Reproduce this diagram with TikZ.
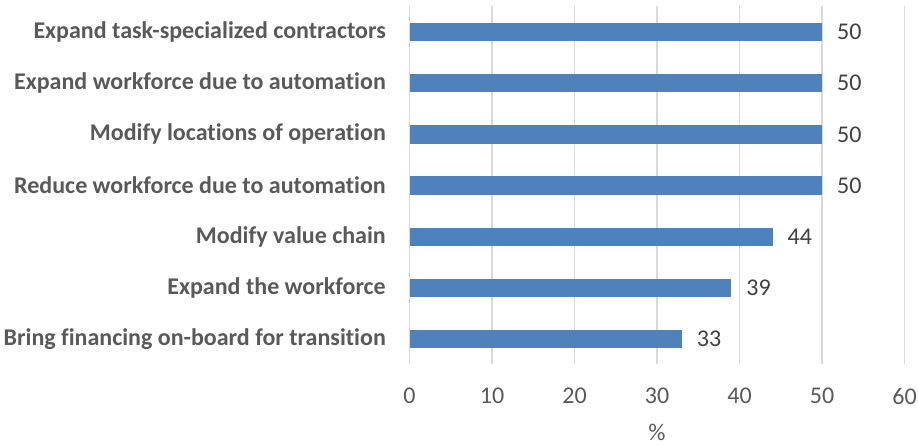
\documentclass[tikz,border=0pt]{standalone}
\usepackage{fontspec}
\setmainfont{Carlito}[Ligatures={NoCommon}]
\definecolor{barblue}{HTML}{4F81BD}
\definecolor{labgray}{HTML}{595959}
\definecolor{numgray}{HTML}{404040}
\definecolor{gridgray}{HTML}{D9D9D9}
\begin{document}
\begin{tikzpicture}[x=1pt,y=-1pt,
  catlabel/.style={anchor=east,font=\fontsize{24}{28}\selectfont\bfseries,text=labgray,inner sep=0pt},
  vallabel/.style={anchor=west,font=\fontsize{24}{28}\selectfont,text=numgray,inner sep=0pt},
  ticklabel/.style={anchor=center,font=\fontsize{24}{28}\selectfont,text=labgray,inner sep=0pt},
  gridline/.style={draw=gridgray,line width=1.3pt},
  barrect/.style={fill=barblue,draw=none}]
\useasboundingbox (0,0) rectangle (918,446);
\def\xz{409.5}
\def\sc{8.25}
% gridlines
\foreach \v in {0,10,...,60}{
  \coordinate (gt\v) at ({\xz+\v*\sc},6);
  \coordinate (gb\v) at ({\xz+\v*\sc},364);
  \draw[gridline] (gt\v) -- (gb\v);
  \node[ticklabel] (tick\v) at ({\xz+\v*\sc},396) {\v};
}
\node[ticklabel] (unit) at ({\xz+30*\sc},432) {\%};
% bars
\foreach \i/\val/\lab in {
  1/50/Expand task-specialized contractors,
  2/50/Expand workforce due to automation,
  3/50/Modify locations of operation,
  4/50/Reduce workforce due to automation,
  5/44/Modify value chain,
  6/39/Expand the workforce,
  7/33/Bring financing on-board for transition}{
  \pgfmathsetmacro\yc{32+(\i-1)*51.2}
  \path[barrect] (\xz,\yc-9.2) rectangle ({\xz+\val*\sc},\yc+9.2);
  \coordinate (bend\i) at ({\xz+\val*\sc},\yc);
  \node[vallabel] (val\i) at ([xshift=15pt]bend\i) {\val};
  \node[catlabel] (cat\i) at (386,\yc) {\lab};
}
\end{tikzpicture}
\end{document}
